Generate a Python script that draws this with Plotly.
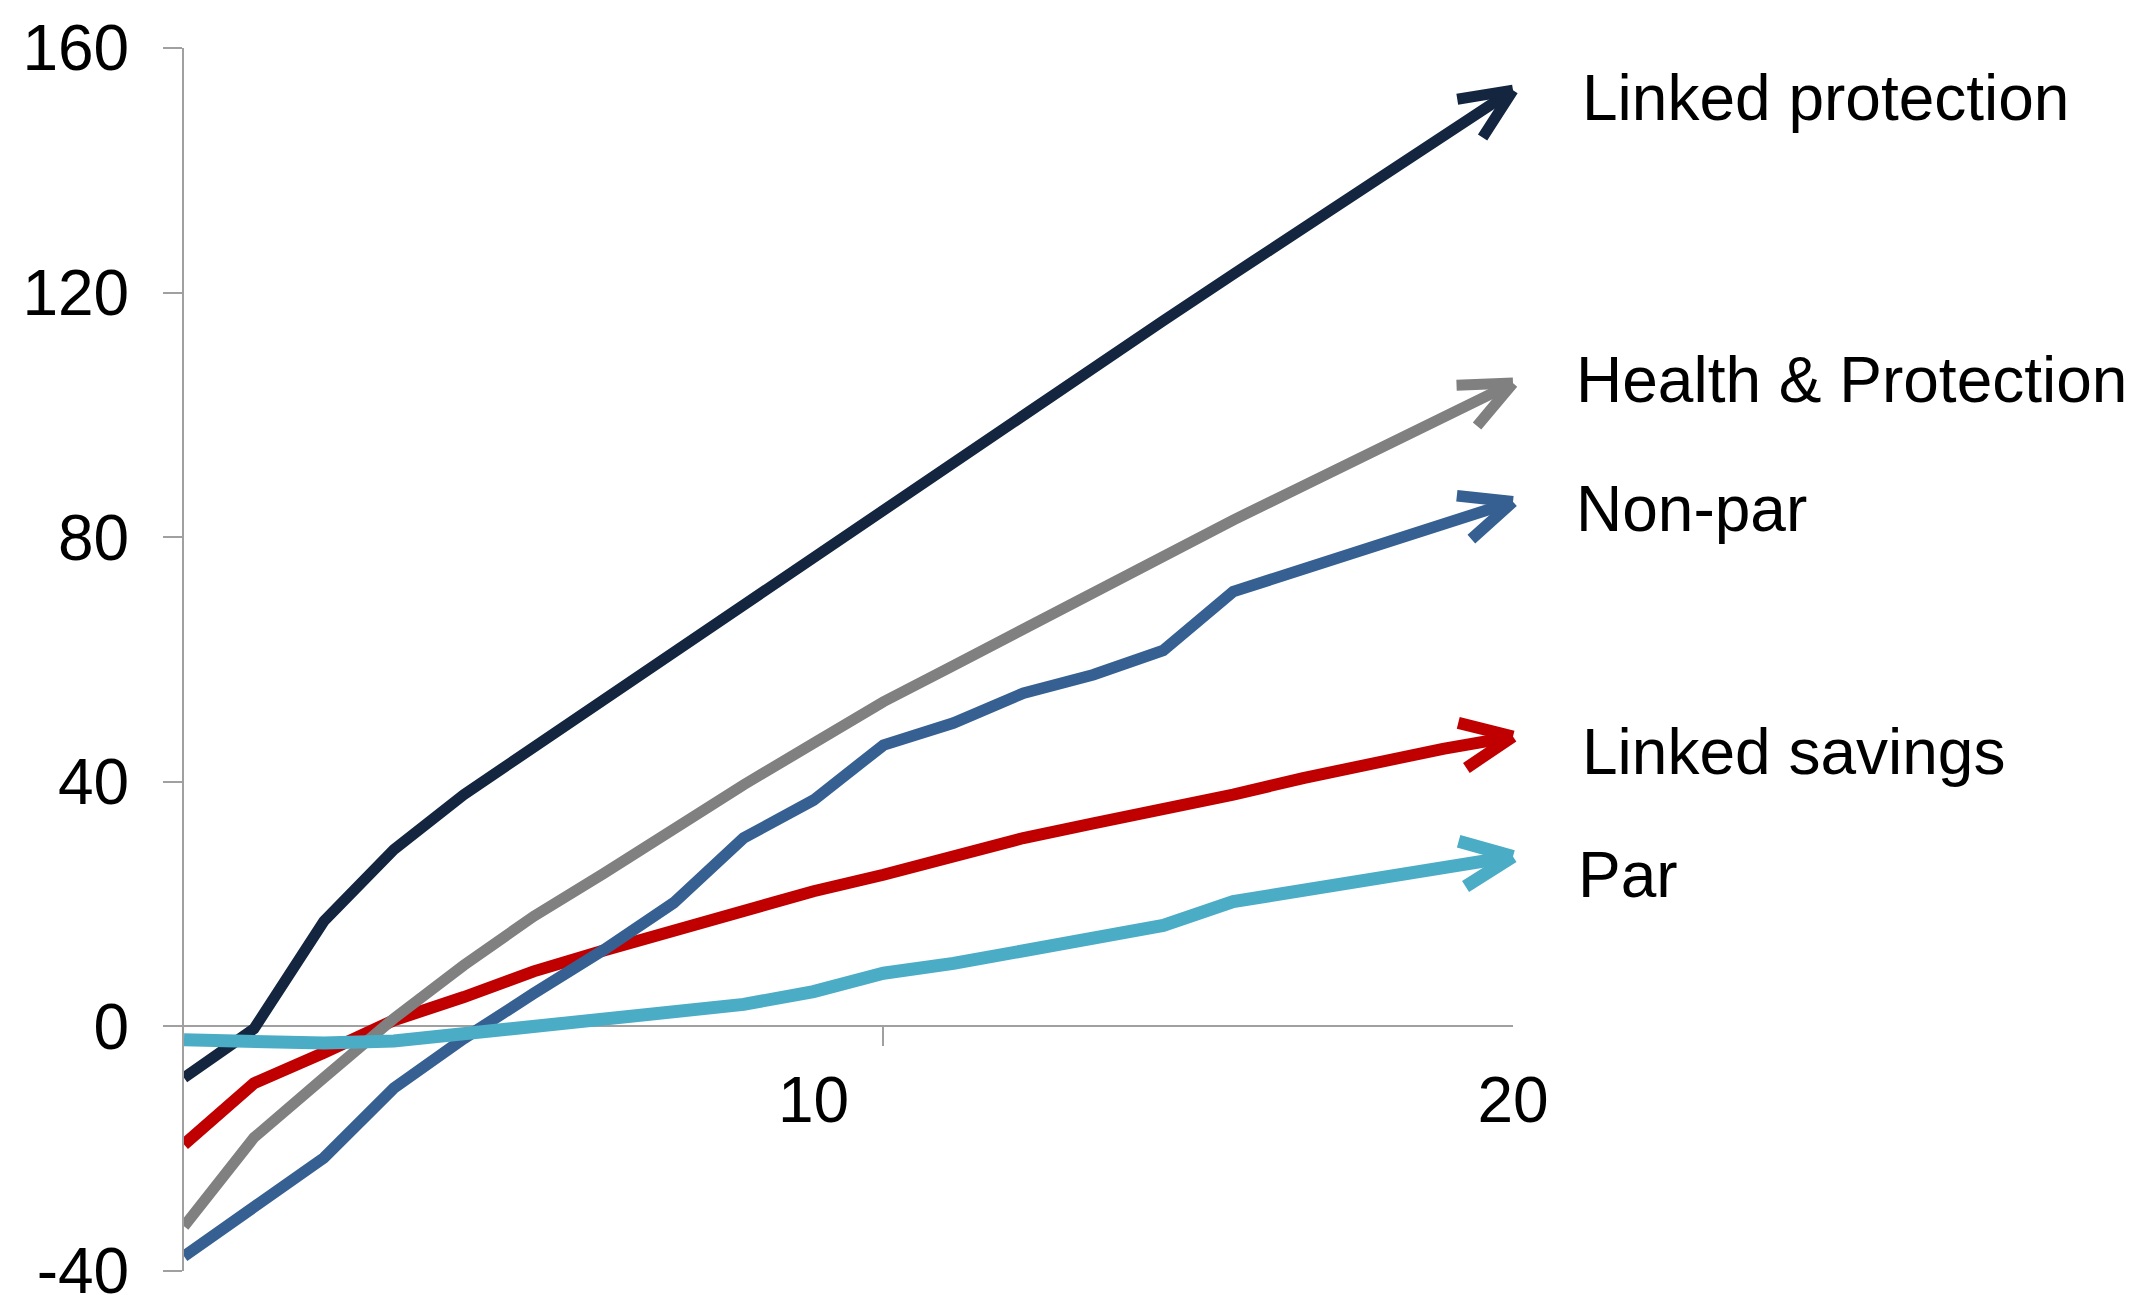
import math
import plotly.graph_objects as go

# ---------------- data ----------------
years = list(range(1, 21))

x_tick_values = [10, 20]
x_tick_labels = ["10", "20"]
x_minor_ticks = [11]
y_tick_values = [-40, 0, 40, 80, 120, 160]
y_tick_labels = ["-40", "0", "40", "80", "120", "160"]

linked_protection = [-8.4, -0.4, 17.2, 28.9, 37.9, 45.7, 53.1, 61.0, 68.8, 76.6, 84.4, 92.1,
                     99.9, 107.7, 115.4, 123.0, 130.6, 138.1, 145.6, 153.1]
health_protection = [-32.7, -18.2, -8.4, 1.3, 10.0, 18.0, 25.0, 32.4, 39.5, 46.3, 53.1, 59.0,
                     65.0, 70.9, 77.0, 82.8, 88.4, 94.0, 99.6, 105.2]
non_par = [-37.6, -29.6, -21.5, -10.1, -2.0, 5.4, 12.5, 20.2, 30.8, 37.0, 46.0, 49.6,
           54.5, 57.5, 61.5, 71.1, 74.8, 78.5, 82.1, 85.8]
linked_savings = [-19.3, -9.3, -4.3, 1.0, 4.8, 9.0, 12.4, 15.8, 19.1, 22.1, 24.8, 27.8,
                  30.8, 33.2, 35.4, 37.9, 40.6, 43.2, 45.4, 47.4]
par = [-2.2, -2.6, -2.7, -2.4, -1.3, 0.0, 0.9, 2.1, 3.6, 5.7, 8.7, 10.3,
       12.3, 14.2, 16.5, 20.4, 22.3, 24.2, 26.1, 27.8]

series = {
    "Linked protection": linked_protection,
    "Health & Protection": health_protection,
    "Non-par": non_par,
    "Linked savings": linked_savings,
    "Par": par,
}

# ---------------- style ----------------
colors = {
    "Linked protection": "#13253F",
    "Health & Protection": "#808080",
    "Non-par": "#376092",
    "Linked savings": "#C00000",
    "Par": "#4BACC6",
}
widths = {
    "Linked protection": 11,
    "Health & Protection": 11,
    "Non-par": 11.5,
    "Linked savings": 12,
    "Par": 13,
}
draw_order = ["Linked savings", "Non-par", "Health & Protection", "Linked protection", "Par"]

# label placement (layout only)
label_y = {
    "Linked protection": 151.8,
    "Health & Protection": 105.7,
    "Non-par": 84.6,
    "Linked savings": 44.9,
    "Par": 24.8,
}
label_xshift = {
    "Linked protection": 67,
    "Health & Protection": 61,
    "Non-par": 61,
    "Linked savings": 67,
    "Par": 63,
}

W, H = 2137, 1295
ML, MR, MT, MB = 184, 624, 48, 24
X_RANGE = [1, 20]
Y_RANGE = [-40, 160]
AXIS_GREY = "#A0A0A0"
FONT = "Liberation Sans, Arial, sans-serif"
FSIZE = 64

px_per_x = (W - ML - MR) / (X_RANGE[1] - X_RANGE[0])
px_per_y = (H - MT - MB) / (Y_RANGE[1] - Y_RANGE[0])

fig = go.Figure()
for name in draw_order:
    fig.add_trace(go.Scatter(
        x=years, y=series[name], mode="lines", name=name,
        line=dict(color=colors[name], width=widths[name]),
        hoverinfo="skip", showlegend=False,
    ))

annotations = []
ARM_LEN = 58
HALF_ANGLE = math.radians(24)
for name in draw_order:
    ys = series[name]
    dxp = (years[-1] - years[-2]) * px_per_x
    dyp = -(ys[-1] - ys[-2]) * px_per_y
    rev = math.atan2(dyp, dxp) + math.pi
    for sgn in (1, -1):
        a = rev + sgn * HALF_ANGLE
        annotations.append(dict(
            x=years[-1], y=ys[-1], xref="x", yref="y",
            ax=ARM_LEN * math.cos(a), ay=ARM_LEN * math.sin(a),
            axref="pixel", ayref="pixel",
            text="", showarrow=True, arrowhead=0,
            arrowwidth=widths[name], arrowcolor=colors[name],
            standoff=0, startstandoff=0, font=dict(size=1),
        ))

for name in series:
    annotations.append(dict(
        x=years[-1], y=label_y[name], xref="x", yref="y",
        xanchor="left", yanchor="middle", xshift=label_xshift[name],
        text=name, showarrow=False,
        font=dict(family=FONT, size=FSIZE, color="#000000"),
    ))

fig.update_layout(
    template="none",
    width=W, height=H, autosize=False,
    margin=dict(l=ML, r=MR, t=MT, b=MB, pad=0),
    paper_bgcolor="white", plot_bgcolor="white",
    showlegend=False,
    font=dict(family=FONT, size=FSIZE, color="#000000"),
    annotations=annotations,
    xaxis=dict(
        range=X_RANGE, anchor="free", position=(0 - Y_RANGE[0]) / (Y_RANGE[1] - Y_RANGE[0]),
        showline=True, linecolor=AXIS_GREY, linewidth=2,
        showgrid=False, zeroline=False,
        tickmode="array", tickvals=x_tick_values, ticktext=x_tick_labels,
        ticks="", ticklabelstandoff=18, ticklabeloverflow="allow",
        tickfont=dict(family=FONT, size=FSIZE, color="#000000"),
        minor=dict(tickmode="array", tickvals=x_minor_ticks, ticks="outside",
                   ticklen=19, tickwidth=2, tickcolor=AXIS_GREY, showgrid=False),
        layer="below traces", automargin=False, fixedrange=True,
    ),
    yaxis=dict(
        range=Y_RANGE, domain=[0, 1],
        showline=True, linecolor=AXIS_GREY, linewidth=2,
        showgrid=False, zeroline=False,
        tickmode="array", tickvals=y_tick_values, ticktext=y_tick_labels,
        ticks="outside", ticklen=19, tickwidth=2, tickcolor=AXIS_GREY,
        ticklabelstandoff=21, ticklabeloverflow="allow",
        tickfont=dict(family=FONT, size=FSIZE, color="#000000"),
        layer="below traces", automargin=False, fixedrange=True,
    ),
)

fig.write_html("out.html", config={"displayModeBar": False})
